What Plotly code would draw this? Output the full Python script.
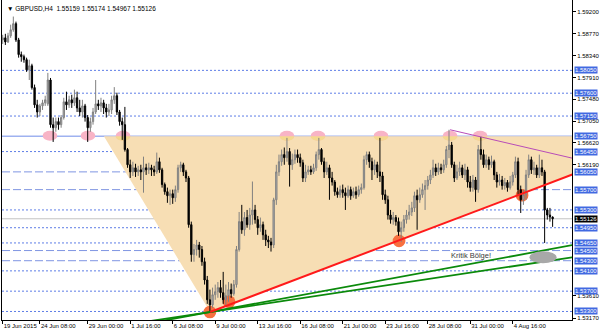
import plotly.graph_objects as go

# ---------------- data (GBPUSD H4 candles, bar index 0..207) ----------------
opens = [
 1.5865, 1.5869, 1.5861, 1.5873, 1.5885, 1.5897, 1.5865, 1.5836, 1.5832, 1.5826,
 1.5806, 1.5814, 1.5771, 1.5737, 1.5723, 1.5735, 1.5741, 1.5739, 1.5786, 1.5698,
 1.5692, 1.5704, 1.5698, 1.5712, 1.5743, 1.5737, 1.5747, 1.5741, 1.5751, 1.5731,
 1.5723, 1.5735, 1.5712, 1.5692, 1.5704, 1.5723, 1.5739, 1.5735, 1.5741, 1.5731,
 1.5723, 1.5727, 1.5747, 1.5755, 1.5723, 1.5704, 1.5698, 1.5649, 1.5619, 1.5605,
 1.5613, 1.5605, 1.5609, 1.5605, 1.5613, 1.5609, 1.5613, 1.5609, 1.5605, 1.5625,
 1.5609, 1.5580, 1.5566, 1.5558, 1.5562, 1.5554, 1.5570, 1.5613, 1.5619, 1.5605,
 1.5593, 1.5501, 1.5442, 1.5452, 1.5461, 1.5452, 1.5428, 1.5392, 1.5353, 1.5343,
 1.5363, 1.5369, 1.5377, 1.5367, 1.5353, 1.5361, 1.5373, 1.5365, 1.5383, 1.5452,
 1.5507, 1.5491, 1.5515, 1.5501, 1.5520, 1.5530, 1.5511, 1.5495, 1.5501, 1.5481,
 1.5471, 1.5467, 1.5461, 1.5550, 1.5605, 1.5625, 1.5639, 1.5633, 1.5645, 1.5619,
 1.5629, 1.5639, 1.5633, 1.5623, 1.5593, 1.5605, 1.5609, 1.5605, 1.5613, 1.5639,
 1.5649, 1.5625, 1.5605, 1.5613, 1.5593, 1.5585, 1.5566, 1.5560, 1.5570, 1.5564,
 1.5558, 1.5570, 1.5558, 1.5566, 1.5560, 1.5570, 1.5574, 1.5629, 1.5639, 1.5625,
 1.5609, 1.5619, 1.5605, 1.5597, 1.5560, 1.5550, 1.5520, 1.5511, 1.5515, 1.5507,
 1.5487, 1.5495, 1.5511, 1.5520, 1.5526, 1.5534, 1.5558, 1.5550, 1.5560, 1.5570,
 1.5578, 1.5589, 1.5599, 1.5613, 1.5605, 1.5613, 1.5609, 1.5619, 1.5649, 1.5658,
 1.5619, 1.5593, 1.5605, 1.5613, 1.5599, 1.5609, 1.5585, 1.5574, 1.5589, 1.5570,
 1.5649, 1.5639, 1.5619, 1.5629, 1.5619, 1.5625, 1.5599, 1.5585, 1.5589, 1.5578,
 1.5584, 1.5574, 1.5585, 1.5599, 1.5625, 1.5570, 1.5550, 1.5560, 1.5599, 1.5629,
 1.5609, 1.5613, 1.5599, 1.5613, 1.5605, 1.5530, 1.5520, 1.55159]
highs = [
 1.5875, 1.5877, 1.5879, 1.5895, 1.5911, 1.5901, 1.5869, 1.5842, 1.5836, 1.5830,
 1.5826, 1.5818, 1.5777, 1.5747, 1.5739, 1.5747, 1.5755, 1.5800, 1.5790, 1.5712,
 1.5712, 1.5712, 1.5717, 1.5751, 1.5763, 1.5755, 1.5757, 1.5767, 1.5763, 1.5747,
 1.5747, 1.5739, 1.5717, 1.5712, 1.5731, 1.5786, 1.5747, 1.5751, 1.5747, 1.5739,
 1.5739, 1.5755, 1.5772, 1.5761, 1.5727, 1.5712, 1.5733, 1.5652, 1.5629, 1.5625,
 1.5621, 1.5617, 1.5619, 1.5635, 1.5621, 1.5623, 1.5619, 1.5617, 1.5643, 1.5633,
 1.5613, 1.5584, 1.5574, 1.5570, 1.5570, 1.5578, 1.5619, 1.5625, 1.5623, 1.5609,
 1.5597, 1.5507, 1.5463, 1.5471, 1.5467, 1.5459, 1.5436, 1.5400, 1.5373, 1.5377,
 1.5383, 1.5388, 1.5392, 1.5408, 1.5383, 1.5388, 1.5385, 1.5392, 1.5459, 1.5526,
 1.5540, 1.5526, 1.5530, 1.5534, 1.5586, 1.5540, 1.5518, 1.5515, 1.5507, 1.5491,
 1.5479, 1.5475, 1.5554, 1.5619, 1.5639, 1.5649, 1.5653, 1.5672, 1.5652, 1.5641,
 1.5649, 1.5649, 1.5641, 1.5629, 1.5619, 1.5617, 1.5617, 1.5621, 1.5645, 1.5672,
 1.5652, 1.5633, 1.5625, 1.5619, 1.5605, 1.5589, 1.5574, 1.5578, 1.5580, 1.5574,
 1.5578, 1.5576, 1.5574, 1.5576, 1.5578, 1.5582, 1.5637, 1.5645, 1.5645, 1.5633,
 1.5629, 1.5625, 1.5672, 1.5605, 1.5570, 1.5558, 1.5530, 1.5526, 1.5520, 1.5515,
 1.5507, 1.5520, 1.5530, 1.5540, 1.5546, 1.5566, 1.5570, 1.5574, 1.5582, 1.5589,
 1.5597, 1.5609, 1.5629, 1.5621, 1.5623, 1.5621, 1.5629, 1.5656, 1.5688, 1.5664,
 1.5625, 1.5619, 1.5625, 1.5619, 1.5621, 1.5615, 1.5597, 1.5599, 1.5595, 1.5658,
 1.5674, 1.5649, 1.5639, 1.5635, 1.5637, 1.5629, 1.5605, 1.5601, 1.5597, 1.5593,
 1.5589, 1.5597, 1.5605, 1.5635, 1.5633, 1.5578, 1.5570, 1.5609, 1.5639, 1.5635,
 1.5625, 1.5619, 1.5639, 1.5629, 1.5609, 1.5534, 1.5534, 1.55174]
lows = [
 1.5857, 1.5855, 1.5859, 1.5869, 1.5881, 1.5861, 1.5830, 1.5822, 1.5820, 1.5802,
 1.5786, 1.5767, 1.5731, 1.5712, 1.5715, 1.5727, 1.5735, 1.5735, 1.5692, 1.5664,
 1.5684, 1.5688, 1.5692, 1.5708, 1.5727, 1.5731, 1.5731, 1.5735, 1.5723, 1.5715,
 1.5712, 1.5704, 1.5664, 1.5684, 1.5698, 1.5719, 1.5727, 1.5723, 1.5719, 1.5712,
 1.5715, 1.5719, 1.5739, 1.5717, 1.5696, 1.5668, 1.5645, 1.5613, 1.5593, 1.5597,
 1.5595, 1.5597, 1.5589, 1.5564, 1.5599, 1.5601, 1.5597, 1.5597, 1.5601, 1.5603,
 1.5574, 1.5560, 1.5544, 1.5540, 1.5542, 1.5546, 1.5564, 1.5605, 1.5597, 1.5585,
 1.5495, 1.5428, 1.5428, 1.5440, 1.5436, 1.5420, 1.5383, 1.5345, 1.5329, 1.5337,
 1.5353, 1.5357, 1.5357, 1.5345, 1.5341, 1.5349, 1.5357, 1.5361, 1.5377, 1.5448,
 1.5483, 1.5479, 1.5495, 1.5491, 1.5501, 1.5503, 1.5481, 1.5487, 1.5471, 1.5459,
 1.5455, 1.5448, 1.5455, 1.5540, 1.5597, 1.5617, 1.5619, 1.5625, 1.5576, 1.5609,
 1.5621, 1.5623, 1.5615, 1.5585, 1.5585, 1.5599, 1.5599, 1.5601, 1.5607, 1.5629,
 1.5619, 1.5593, 1.5599, 1.5550, 1.5578, 1.5558, 1.5554, 1.5554, 1.5554, 1.5530,
 1.5554, 1.5550, 1.5554, 1.5552, 1.5556, 1.5562, 1.5570, 1.5619, 1.5613, 1.5589,
 1.5599, 1.5593, 1.5585, 1.5550, 1.5542, 1.5511, 1.5503, 1.5501, 1.5499, 1.5479,
 1.5467, 1.5487, 1.5503, 1.5511, 1.5518, 1.5526, 1.5491, 1.5544, 1.5554, 1.5530,
 1.5570, 1.5581, 1.5593, 1.5597, 1.5599, 1.5601, 1.5603, 1.5613, 1.5632, 1.5613,
 1.5585, 1.5589, 1.5597, 1.5593, 1.5589, 1.5574, 1.5566, 1.5566, 1.5546, 1.5564,
 1.5629, 1.5613, 1.5613, 1.5609, 1.5613, 1.5589, 1.5574, 1.5578, 1.5570, 1.5570,
 1.5566, 1.5570, 1.5578, 1.5593, 1.5560, 1.5524, 1.5540, 1.5550, 1.5593, 1.5601,
 1.5599, 1.5593, 1.5593, 1.5597, 1.5465, 1.5511, 1.5507, 1.54967]
closes = [
 1.5869, 1.5861, 1.5873, 1.5885, 1.5897, 1.5865, 1.5836, 1.5832, 1.5826, 1.5806,
 1.5814, 1.5771, 1.5737, 1.5723, 1.5735, 1.5741, 1.5747, 1.5786, 1.5698, 1.5692,
 1.5704, 1.5698, 1.5712, 1.5743, 1.5737, 1.5747, 1.5741, 1.5751, 1.5731, 1.5723,
 1.5735, 1.5712, 1.5692, 1.5704, 1.5723, 1.5739, 1.5735, 1.5741, 1.5731, 1.5723,
 1.5727, 1.5747, 1.5755, 1.5723, 1.5704, 1.5698, 1.5649, 1.5619, 1.5605, 1.5613,
 1.5605, 1.5609, 1.5605, 1.5613, 1.5609, 1.5613, 1.5609, 1.5605, 1.5625, 1.5609,
 1.5580, 1.5566, 1.5558, 1.5562, 1.5554, 1.5570, 1.5613, 1.5619, 1.5605, 1.5593,
 1.5501, 1.5442, 1.5452, 1.5461, 1.5452, 1.5428, 1.5392, 1.5353, 1.5343, 1.5363,
 1.5369, 1.5377, 1.5367, 1.5353, 1.5361, 1.5373, 1.5365, 1.5383, 1.5452, 1.5507,
 1.5491, 1.5515, 1.5501, 1.5520, 1.5530, 1.5511, 1.5495, 1.5501, 1.5481, 1.5471,
 1.5467, 1.5461, 1.5550, 1.5605, 1.5625, 1.5639, 1.5633, 1.5645, 1.5619, 1.5629,
 1.5639, 1.5633, 1.5623, 1.5593, 1.5605, 1.5609, 1.5605, 1.5613, 1.5639, 1.5649,
 1.5625, 1.5605, 1.5613, 1.5593, 1.5585, 1.5566, 1.5560, 1.5570, 1.5564, 1.5558,
 1.5570, 1.5558, 1.5566, 1.5560, 1.5570, 1.5574, 1.5629, 1.5639, 1.5625, 1.5609,
 1.5619, 1.5605, 1.5597, 1.5560, 1.5550, 1.5520, 1.5511, 1.5515, 1.5507, 1.5487,
 1.5495, 1.5511, 1.5520, 1.5526, 1.5534, 1.5558, 1.5550, 1.5560, 1.5570, 1.5578,
 1.5589, 1.5599, 1.5613, 1.5605, 1.5613, 1.5609, 1.5619, 1.5649, 1.5658, 1.5619,
 1.5593, 1.5605, 1.5613, 1.5599, 1.5609, 1.5585, 1.5574, 1.5589, 1.5570, 1.5649,
 1.5639, 1.5619, 1.5629, 1.5619, 1.5625, 1.5599, 1.5585, 1.5589, 1.5578, 1.5584,
 1.5574, 1.5585, 1.5599, 1.5625, 1.5570, 1.5550, 1.5560, 1.5599, 1.5629, 1.5609,
 1.5613, 1.5599, 1.5613, 1.5605, 1.5530, 1.5520, 1.5516, 1.55126]

tick_idx = [0, 14, 32, 48, 64, 80, 96, 112, 128, 144, 160, 176, 192]
tick_labels = ["19 Jun 2015", "24 Jun 08:00", "29 Jun 00:00", "1 Jul 16:00",
               "6 Jul 08:00", "9 Jul 00:00", "13 Jul 16:00", "16 Jul 08:00",
               "21 Jul 00:00", "23 Jul 16:00", "28 Jul 08:00", "31 Jul 00:00",
               "4 Aug 16:00"]

# price scale labels left visible beside the level boxes
price_ticks = [1.5920, 1.5877, 1.5834, 1.5791, 1.5748, 1.5705, 1.5662, 1.5619,
               1.5361, 1.5317]

dotted_levels = [1.5805, 1.5760, 1.5715, 1.5645, 1.5530, 1.5495, 1.5465,
                 1.5410, 1.5370, 1.5330]
dashed_levels = [1.5605, 1.5570, 1.5450, 1.5430]
solid_levels = [1.5675]
bid_price = 1.55126

# analysis objects (bar index, price)
triangle_idx = [38.1, 78.1, 252.0]
triangle_px = [1.5675, 1.5329, 1.5675]
red_idx = [78.1, 149.6]
red_px = [1.5329, 1.5471]
green_hi_idx = [78.1, 214.7]
green_hi_px = [1.5329, 1.5461]
green_lo_idx = [78.1, 214.7]
green_lo_px = [1.5329, 1.5437]
magenta_idx = [168.4, 206.2]
magenta_px = [1.5688, 1.5642]
top_touch_idx = [17.8, 32.1, 45.3, 107.0, 118.7, 142.4, 168.4, 179.7]
top_touch_px = 1.5676
low_touch_idx = [78.0, 85.2, 149.2, 195.5]
low_touch_px = [1.5329, 1.5349, 1.5469, 1.5559]
zone_idx = 203.4
zone_px = 1.5437
zone_text_idx = 176.3
zone_text_px = 1.5441

title_text = "\u25bc GBPUSD,H4  1.55159 1.55174 1.54967 1.55126"

# ---------------- figure ----------------
FONT = "Liberation Sans"
X_RANGE = [-0.26, 214.3]
Y_RANGE = [1.53132, 1.59436]

fig = go.Figure()
fig.add_trace(go.Candlestick(
    x=list(range(len(closes))), open=opens, high=highs, low=lows, close=closes,
    increasing=dict(line=dict(color="#808080", width=1), fillcolor="#b4b4b4"),
    decreasing=dict(line=dict(color="#000000", width=1), fillcolor="#000000"),
    whiskerwidth=0, hoverinfo="skip", showlegend=False))

shapes = []

# peach triangle
tri = "M {} {} L {} {} L {} {} Z".format(triangle_idx[0], triangle_px[0],
                                         triangle_idx[1], triangle_px[1],
                                         triangle_idx[2], triangle_px[2])
shapes.append(dict(type="path", path=tri, xref="x", yref="y", layer="below",
                   fillcolor="rgb(247,222,180)", line=dict(width=0)))

for lv in dotted_levels:
    shapes.append(dict(type="line", xref="paper", x0=0, x1=1, yref="y", y0=lv, y1=lv,
                       layer="below", line=dict(color="#5d7de6", width=1, dash="2px,2px")))
for lv in dashed_levels:
    shapes.append(dict(type="line", xref="paper", x0=0, x1=1, yref="y", y0=lv, y1=lv,
                       layer="below", line=dict(color="#7f95e2", width=1, dash="8px,3px")))
for lv in solid_levels:
    shapes.append(dict(type="line", xref="paper", x0=0, x1=1, yref="y", y0=lv, y1=lv,
                       layer="below", line=dict(color="#9fb2f0", width=1.5)))
shapes.append(dict(type="line", xref="paper", x0=0, x1=1, yref="y", y0=bid_price, y1=bid_price,
                   layer="below", line=dict(color="#c4c4c4", width=1)))

# touch ellipses on resistance
rx, ry = 2.75, 0.00098
k = 0.5523
for ci in top_touch_idx:
    shapes.append(dict(type="circle", xref="x", yref="y", layer="below",
                       x0=ci - rx, x1=ci + rx, y0=top_touch_px - ry, y1=top_touch_px + ry,
                       fillcolor="#f8b4c6", line=dict(width=0)))
    if ci > triangle_idx[0]:
        cy = top_touch_px - 0.0001
        p = ("M {a},{cy} C {a},{b1} {c1},{b} {ci},{b} C {c2},{b} {d},{b1} {d},{cy} Z"
             .format(a=ci - rx, d=ci + rx, cy=cy, b=cy - ry * 0.9, b1=cy - k * ry * 0.9,
                     c1=ci - k * rx, c2=ci + k * rx, ci=ci))
        shapes.append(dict(type="path", path=p, xref="x", yref="y", layer="below",
                           fillcolor="#f4d98e", line=dict(width=0)))

# support touch circles
orx, ory = 2.4, 0.00124
for ci, cp in zip(low_touch_idx, low_touch_px):
    shapes.append(dict(type="circle", xref="x", yref="y", layer="below",
                       x0=ci - orx, x1=ci + orx, y0=cp - ory, y1=cp + ory,
                       fillcolor="#f7703f", line=dict(width=0)))


def ray(xs, ys, x_from, x_to):
    s = (ys[1] - ys[0]) / (xs[1] - xs[0])
    return x_from, ys[0] + s * (x_from - xs[0]), x_to, ys[0] + s * (x_to - xs[0])


for xs, ys, col, w, xf in [(green_hi_idx, green_hi_px, "#0b8a0b", 1.8, 40),
                           (green_lo_idx, green_lo_px, "#0b8a0b", 1.8, 40),
                           (red_idx, red_px, "#ff1a1a", 2, red_idx[0]),
                           (magenta_idx, magenta_px, "#b84cb8", 1, magenta_idx[0])]:
    x0, y0, x1, y1 = ray(xs, ys, xf, 230)
    shapes.append(dict(type="line", xref="x", yref="y", x0=x0, y0=y0, x1=x1, y1=y1,
                       layer="above", line=dict(color=col, width=w)))

shapes.append(dict(type="circle", xref="x", yref="y", layer="above",
                   x0=zone_idx - 5.1, x1=zone_idx + 5.1, y0=zone_px - 0.00118, y1=zone_px + 0.00118,
                   fillcolor="#a8a8a8", line=dict(width=0)))

annotations = [
    dict(text=title_text, xref="paper", yref="paper", x=0, y=1, xanchor="left", yanchor="top",
         xshift=3, yshift=-3, showarrow=False, font=dict(family=FONT, size=6.5, color="#000")),
    dict(text="Kritik Bölge!", xref="x", yref="y", x=zone_text_idx, y=zone_text_px,
         showarrow=False, font=dict(family=FONT, size=7.5, color="#3a3a3a")),
]
for lv in sorted(dotted_levels + dashed_levels + solid_levels):
    annotations.append(dict(text="{:.5f}".format(lv), xref="paper", yref="y", x=1, y=lv,
                            xanchor="left", yanchor="middle", xshift=2, showarrow=False,
                            bgcolor="#4169e1", borderpad=0,
                            font=dict(family=FONT, size=6, color="#ffffff")))
annotations.append(dict(text="{:.5f}".format(bid_price), xref="paper", yref="y", x=1, y=bid_price,
                        xanchor="left", yanchor="middle", xshift=2, showarrow=False,
                        bgcolor="#000000", borderpad=0,
                        font=dict(family=FONT, size=6, color="#ffffff")))

fig.update_layout(
    width=600, height=333,
    margin=dict(l=2, r=28, t=0, b=13),
    paper_bgcolor="white", plot_bgcolor="white",
    shapes=shapes, annotations=annotations,
    font=dict(family=FONT, size=6, color="#000"),
    showlegend=False,
)
fig.update_xaxes(range=X_RANGE, rangeslider=dict(visible=False), showgrid=False, zeroline=False,
                 tickmode="array", tickvals=tick_idx, ticktext=tick_labels, tickangle=0,
                 automargin=False,
                 ticks="outside", ticklen=3, tickcolor="#000", ticklabelposition="outside right",
                 showline=True, linecolor="#000", linewidth=1, mirror=True,
                 tickfont=dict(family=FONT, size=6, color="#000"))
fig.update_yaxes(range=Y_RANGE, side="right", showgrid=False, zeroline=False,
                 tickmode="array", tickvals=price_ticks, automargin=False,
                 ticktext=["{:.5f}".format(v) for v in price_ticks],
                 ticks="outside", ticklen=3, tickcolor="#000",
                 showline=True, linecolor="#000", linewidth=1, mirror=True,
                 tickfont=dict(family=FONT, size=6, color="#000"))

fig.write_html("out.html")
